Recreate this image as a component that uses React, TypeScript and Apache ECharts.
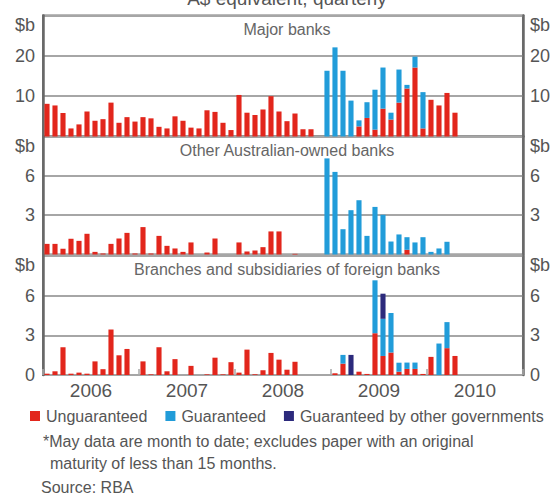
import React, { useEffect, useRef } from "react";
import * as echarts from "echarts";

// Monthly categories, Jan 2006 – Dec 2010
const months: string[] = [
  "Jan-06","Feb-06","Mar-06","Apr-06","May-06","Jun-06","Jul-06","Aug-06","Sep-06","Oct-06","Nov-06","Dec-06",
  "Jan-07","Feb-07","Mar-07","Apr-07","May-07","Jun-07","Jul-07","Aug-07","Sep-07","Oct-07","Nov-07","Dec-07",
  "Jan-08","Feb-08","Mar-08","Apr-08","May-08","Jun-08","Jul-08","Aug-08","Sep-08","Oct-08","Nov-08","Dec-08",
  "Jan-09","Feb-09","Mar-09","Apr-09","May-09","Jun-09","Jul-09","Aug-09","Sep-09","Oct-09","Nov-09","Dec-09",
  "Jan-10","Feb-10","Mar-10","Apr-10","May-10","Jun-10","Jul-10","Aug-10","Sep-10","Oct-10","Nov-10","Dec-10",
];
const years: string[] = ["2006", "2007", "2008", "2009", "2010"];

// Major banks ($b)
const majorUnguaranteed: number[] = [
  8.1, 7.7, 5.8, 2.0, 3.0, 6.2, 3.9, 4.3, 8.4, 3.4, 4.8, 3.7,
  4.8, 4.5, 2.4, 2.0, 5.0, 3.9, 2.2, 2.0, 6.5, 6.1, 3.4, 1.6,
  10.3, 5.9, 5.3, 6.7, 10.0, 6.2, 3.8, 5.7, 1.8, 1.8, 0, 0,
  0, 0, 0, 2.5, 4.6, 1.7, 6.9, 4.2, 8.4, 11.9, 17.1, 2.0,
  9.1, 7.7, 10.8, 5.9,
];
const majorGuaranteed: number[] = [
  0, 0, 0, 0, 0, 0, 0, 0, 0, 0, 0, 0,
  0, 0, 0, 0, 0, 0, 0, 0, 0, 0, 0, 0,
  0, 0, 0, 0, 0, 0, 0, 0, 0, 0, 0, 16.3,
  22.1, 16.3, 8.9, 1.5, 3.9, 9.9, 10.2, 1.7, 8.2, 0.9, 2.7, 9.0,
  0, 0, 0, 0,
];

// Other Australian-owned banks ($b)
const otherUnguaranteed: number[] = [
  0.81, 0.81, 0.43, 1.2, 1.04, 1.58, 0.2, 0.08, 0.81, 1.22, 1.65, 0.08,
  2.09, 0.08, 1.42, 0.66, 0.46, 0.2, 0.92, 0, 0.15, 1.22, 0, 0,
  0.92, 0.23, 0.3, 0.56, 1.76, 1.76, 0, 0.05, 0, 0, 0, 0,
  0, 0, 0, 0, 0, 0, 0, 0, 0, 0.36, 0, 0,
  0, 0, 0, 0,
];
const otherGuaranteed: number[] = [
  0, 0, 0, 0, 0, 0, 0, 0, 0, 0, 0, 0,
  0, 0, 0, 0, 0, 0, 0, 0, 0, 0, 0, 0,
  0, 0, 0, 0, 0, 0, 0, 0, 0, 0, 0, 7.33,
  6.3, 1.93, 3.38, 4.14, 1.42, 3.63, 3.03, 0.99, 1.53, 0.96, 0.92, 1.32,
  0.2, 0.46, 0.97, 0,
];

// Branches and subsidiaries of foreign banks ($b)
const foreignUnguaranteed: number[] = [
  0.1, 0.28, 2.1, 0.1, 0.18, 0.1, 1.03, 0.44, 3.44, 1.49, 1.97, 0,
  1.03, 0.05, 2.1, 0.28, 1.2, 0, 0.69, 0, 0.05, 1.31, 0.05, 0.97,
  0.18, 1.92, 0.05, 0.36, 1.67, 1.16, 0.4, 1.0, 0, 0, 0, 0,
  0.13, 0.86, 0, 0.25, 0.08, 3.16, 1.44, 1.7, 0.25, 0.46, 0.46, 0.08,
  1.37, 0, 2.03, 1.44,
];
const foreignGuaranteed: number[] = [
  0, 0, 0, 0, 0, 0, 0, 0, 0, 0, 0, 0,
  0, 0, 0, 0, 0, 0, 0, 0, 0, 0, 0, 0,
  0, 0, 0, 0, 0, 0, 0, 0, 0, 0, 0, 0,
  0, 0.66, 0, 0, 0, 4.0, 2.81, 2.99, 0.68, 0.48, 0.48, 0,
  0, 2.38, 1.97, 0,
];
const foreignOtherGovt: number[] = [
  0, 0, 0, 0, 0, 0, 0, 0, 0, 0, 0, 0,
  0, 0, 0, 0, 0, 0, 0, 0, 0, 0, 0, 0,
  0, 0, 0, 0, 0, 0, 0, 0, 0, 0, 0, 0,
  0, 0, 1.52, 0, 0, 0, 1.9, 0, 0, 0, 0, 0,
  0, 0, 0, 0,
];

const panelTitles: string[] = [
  "Major banks",
  "Other Australian-owned banks",
  "Branches and subsidiaries of foreign banks",
];
const panelMax: number[] = [30, 9, 9];
const panelInterval: number[] = [10, 3, 3];
const seriesNames: string[] = ["Unguaranteed", "Guaranteed", "Guaranteed by other governments"];

const RED = "#e2261c";
const BLUE = "#219cd9";
const NAVY = "#2c2a7c";
const TEXT = "#555555";
const FONT = "Liberation Sans";

export default function App() {
  const ref = useRef<HTMLDivElement>(null);

  useEffect(() => {
    if (!ref.current) return;
    const chart = echarts.init(ref.current, null, { renderer: "svg" });

    const gridTops = [15.5, 136.5, 256];
    const gridHeights = [121, 118, 119];
    const grids = gridTops.map((t, i) => ({
      left: 43,
      right: 22,
      top: t,
      height: gridHeights[i],
      show: true,
      borderColor: "#767676",
      borderWidth: 2,
      backgroundColor: "transparent",
    }));

    const xAxes: any[] = [0, 1, 2].map((g) => ({
      type: "category",
      gridIndex: g,
      data: months,
      position: "bottom",
      boundaryGap: true,
      show: false,
    }));
    xAxes.push({
      type: "category",
      gridIndex: 2,
      data: years,
      position: "bottom",
      boundaryGap: true,
      axisLine: { show: false },
      axisTick: { show: true, inside: true, length: 6, lineStyle: { color: "#a8a8a8", width: 1.5 } },
      axisLabel: { show: true, fontSize: 19, color: TEXT, fontFamily: FONT, margin: 6 },
      splitLine: { show: false },
    });

    const labelFormatter = (g: number) => (v: number) => {
      if (v === panelMax[g]) return "";
      if (v === 0 && g < 2) return "";
      return String(v);
    };

    const yAxes: any[] = [];
    [0, 1, 2].forEach((g) => {
      yAxes.push({
        type: "value",
        gridIndex: g,
        position: "left",
        min: 0,
        max: panelMax[g],
        interval: panelInterval[g],
        name: "$b",
        nameLocation: "end",
        nameGap: -9,
        nameTextStyle: {
          align: "right",
          verticalAlign: "middle",
          padding: [0, 8, 0, 0],
          fontSize: 18,
          color: TEXT,
          fontFamily: FONT,
        },
        axisLine: { show: true, lineStyle: { color: "#686868", width: 2.5 } },
        axisTick: { show: false },
        axisLabel: { formatter: labelFormatter(g), fontSize: 18, color: TEXT, fontFamily: FONT, margin: 8 },
        splitLine: { show: true, lineStyle: { color: "#a6a6a6", width: 2 } },
      });
    });
    [0, 1, 2].forEach((g) => {
      yAxes.push({
        type: "value",
        gridIndex: g,
        position: "right",
        min: 0,
        max: panelMax[g],
        interval: panelInterval[g],
        name: "$b",
        nameLocation: "end",
        nameGap: -9,
        nameTextStyle: {
          align: "left",
          verticalAlign: "middle",
          padding: [0, 0, 0, 7],
          fontSize: 18,
          color: TEXT,
          fontFamily: FONT,
        },
        axisLine: { show: true, lineStyle: { color: "#686868", width: 2.5 } },
        axisTick: { show: false },
        axisLabel: { formatter: labelFormatter(g), fontSize: 18, color: TEXT, fontFamily: FONT, margin: 7 },
        splitLine: { show: false },
      });
    });

    const panelData: number[][][] = [
      [majorUnguaranteed, majorGuaranteed],
      [otherUnguaranteed, otherGuaranteed],
      [foreignUnguaranteed, foreignGuaranteed, foreignOtherGovt],
    ];
    const colors = [RED, BLUE, NAVY];
    const series: any[] = [];
    panelData.forEach((sets, g) => {
      sets.forEach((d, k) => {
        series.push({
          type: "bar",
          name: seriesNames[k],
          xAxisIndex: g,
          yAxisIndex: g,
          stack: "p" + g,
          data: d,
          barWidth: "64%",
          itemStyle: { color: colors[k] },
          emphasis: { disabled: true },
        });
      });
    });

    const graphic: any[] = [
      {
        type: "text",
        x: 287,
        y: 8,
        style: {
          text: "A$ equivalent, quarterly",
          align: "center",
          verticalAlign: "bottom",
          fontSize: 19,
          fill: TEXT,
          fontFamily: FONT,
        },
      },
    ];
    const titleY = [29, 150, 269];
    panelTitles.forEach((t, i) => {
      graphic.push({
        type: "text",
        x: 287,
        y: titleY[i],
        style: {
          text: t,
          align: "center",
          verticalAlign: "middle",
          fontSize: 16,
          fill: "#666666",
          fontFamily: FONT,
        },
      });
    });
    const notes = [
      { text: "*May data are month to date; excludes paper with an original", x: 43, y: 441 },
      { text: "maturity of less than 15 months.", x: 50, y: 463 },
      { text: "Source: RBA", x: 41, y: 487 },
    ];
    notes.forEach((n) => {
      graphic.push({
        type: "text",
        x: n.x,
        y: n.y,
        style: {
          text: n.text,
          align: "left",
          verticalAlign: "middle",
          fontSize: 16,
          fill: TEXT,
          fontFamily: FONT,
        },
      });
    });

    chart.setOption({
      animation: false,
      textStyle: { fontFamily: FONT },
      grid: grids,
      xAxis: xAxes,
      yAxis: yAxes,
      legend: {
        data: seriesNames,
        left: 25,
        top: 403,
        icon: "rect",
        itemWidth: 10,
        itemHeight: 10,
        itemGap: 18,
        selectedMode: false,
        textStyle: { fontSize: 16, color: TEXT, fontFamily: FONT, padding: [0, 0, 0, 1] },
      },
      series,
      graphic,
    });

    return () => chart.dispose();
  }, []);

  return (
    <div
      ref={ref}
      style={{ position: "fixed", left: 0, top: 0, width: 553, height: 494, background: "#fff" }}
    />
  );
}
